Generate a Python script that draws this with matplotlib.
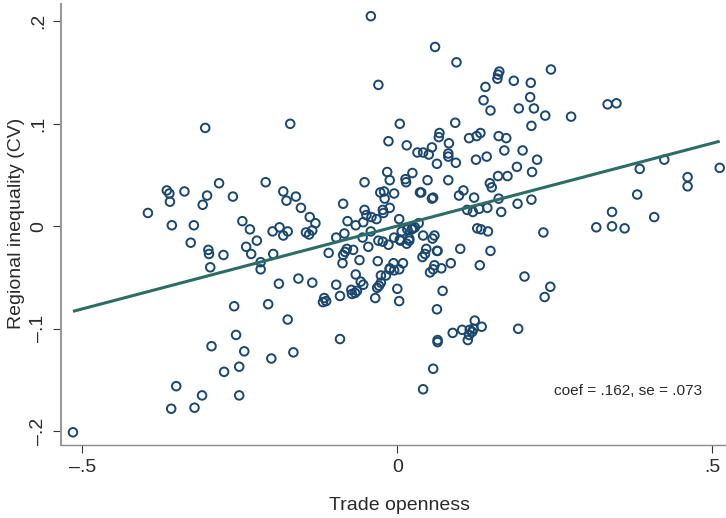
import matplotlib
matplotlib.use("Agg")
import matplotlib.pyplot as plt

plt.rcParams["font.family"] = ["Liberation Sans", "DejaVu Sans"]

# trade openness, regional inequality
points = [
    (-0.042, 0.205), (-0.030, 0.138), (-0.305, 0.096), (-0.170, 0.100), (-0.014, 0.083),
    (-0.016, 0.053), (-0.012, 0.045), (-0.052, 0.043), (-0.209, 0.043), (-0.283, 0.042),
    (-0.366, 0.035), (-0.362, 0.032), (-0.338, 0.034), (-0.302, 0.030), (-0.261, 0.029),
    (-0.181, 0.034), (-0.161, 0.029), (-0.176, 0.025), (-0.361, 0.024), (-0.309, 0.021),
    (-0.153, 0.018), (-0.396, 0.013), (-0.086, 0.022), (-0.027, 0.033), (-0.021, 0.034),
    (-0.020, 0.027), (-0.052, 0.016), (-0.023, 0.016), (-0.022, 0.013), (-0.049, 0.011),
    (-0.041, 0.009), (-0.033, 0.007), (-0.054, 0.004), (-0.066, 0.001), (-0.079, 0.005),
    (-0.139, 0.009), (-0.130, 0.003), (-0.358, 0.001), (-0.323, 0.001), (-0.246, 0.005),
    (-0.234, -0.003), (-0.198, -0.005), (-0.187, -0.001), (-0.174, -0.005), (-0.181, -0.009),
    (-0.145, -0.006), (-0.140, -0.008), (-0.135, -0.004), (-0.097, -0.011), (-0.084, -0.007),
    (-0.042, -0.005), (-0.055, -0.011), (-0.223, -0.014), (-0.328, -0.016), (-0.300, -0.023),
    (-0.299, -0.027), (-0.276, -0.028), (-0.240, -0.020), (-0.232, -0.027), (-0.197, -0.027),
    (-0.217, -0.035), (-0.217, -0.042), (-0.297, -0.040), (-0.109, -0.026), (-0.046, -0.020),
    (-0.030, -0.014), (-0.023, -0.015), (-0.014, -0.018), (-0.070, -0.023), (-0.080, -0.022),
    (-0.083, -0.025), (-0.086, -0.028), (-0.087, -0.036), (-0.060, -0.033), (-0.031, -0.034),
    (-0.066, -0.047), (-0.058, -0.054), (-0.054, -0.057), (-0.026, -0.048), (-0.018, -0.048),
    (-0.012, -0.042), (-0.026, -0.055), (-0.029, -0.058), (-0.032, -0.060), (-0.035, -0.070),
    (-0.188, -0.056), (-0.157, -0.051), (-0.135, -0.055), (-0.097, -0.057), (-0.073, -0.062),
    (-0.072, -0.066), (-0.067, -0.065), (-0.064, -0.063), (-0.091, -0.068), (-0.116, -0.070),
    (-0.118, -0.074), (-0.113, -0.073), (-0.205, -0.076), (-0.259, -0.078), (-0.174, -0.091),
    (-0.256, -0.106), (-0.091, -0.110), (-0.295, -0.117), (-0.243, -0.122), (-0.165, -0.123),
    (-0.200, -0.129), (-0.251, -0.137), (-0.275, -0.142), (-0.351, -0.156), (-0.310, -0.165),
    (-0.251, -0.165), (-0.322, -0.177), (-0.359, -0.178), (-0.515, -0.201),
    (0.060, 0.175), (0.094, 0.160), (0.244, 0.153), (0.162, 0.151), (0.160, 0.148),
    (0.159, 0.144), (0.185, 0.142), (0.212, 0.140), (0.140, 0.136), (0.211, 0.126),
    (0.137, 0.123), (0.193, 0.115), (0.217, 0.115), (0.148, 0.113), (0.235, 0.108),
    (0.276, 0.107), (0.334, 0.119), (0.348, 0.120), (0.213, 0.098), (0.004, 0.100),
    (0.092, 0.101), (0.067, 0.091), (0.066, 0.087), (0.015, 0.079), (0.032, 0.072),
    (0.041, 0.072), (0.050, 0.070), (0.055, 0.077), (0.082, 0.081), (0.081, 0.071),
    (0.081, 0.068), (0.063, 0.061), (0.093, 0.062), (0.114, 0.086), (0.126, 0.088),
    (0.132, 0.091), (0.161, 0.088), (0.173, 0.086), (0.170, 0.074), (0.199, 0.074),
    (0.125, 0.065), (0.142, 0.068), (0.222, 0.065), (0.190, 0.058), (0.214, 0.053),
    (0.160, 0.049), (0.175, 0.049), (0.024, 0.052), (0.013, 0.046), (0.014, 0.043),
    (0.048, 0.045), (0.081, 0.045), (0.147, 0.042), (0.150, 0.038), (0.105, 0.035),
    (0.098, 0.030), (0.122, 0.028), (0.161, 0.027), (0.213, 0.026), (0.191, 0.022),
    (0.036, 0.033), (0.038, 0.033), (0.055, 0.027), (0.057, 0.028), (-0.005, 0.032),
    (-0.012, 0.018), (0.003, 0.007), (0.111, 0.016), (0.120, 0.014), (0.130, 0.017),
    (0.143, 0.018), (0.165, 0.014), (0.127, -0.002), (0.133, -0.003), (0.144, -0.005),
    (0.232, -0.006), (0.316, -0.001), (0.341, 0.000), (0.361, -0.002), (0.341, 0.014),
    (0.381, 0.031), (0.408, 0.009), (0.385, 0.056), (0.424, 0.065), (0.461, 0.048),
    (0.461, 0.039), (0.512, 0.057), (0.034, 0.003), (0.028, -0.001), (0.025, -0.002),
    (0.023, -0.003), (0.016, -0.003), (0.007, -0.005), (-0.005, -0.011), (0.004, -0.013),
    (0.019, -0.012), (0.041, -0.009), (0.059, -0.009), (0.056, -0.012), (0.005, -0.014),
    (0.015, -0.017), (0.019, -0.014), (0.046, -0.022), (0.064, -0.024), (0.063, -0.024),
    (0.100, -0.022), (0.148, -0.024), (0.044, -0.027), (0.040, -0.030), (0.085, -0.036),
    (0.131, -0.038), (0.059, -0.038), (0.057, -0.042), (0.070, -0.041), (0.052, -0.045),
    (0.009, -0.036), (-0.006, -0.036), (-0.012, -0.041), (-0.005, -0.043), (0.003, -0.042),
    (0.202, -0.049), (0.243, -0.059), (0.234, -0.069), (0.000, -0.061), (0.072, -0.063),
    (0.003, -0.073), (0.063, -0.081), (0.123, -0.092), (0.134, -0.098), (0.192, -0.100),
    (0.103, -0.101), (0.088, -0.104), (0.121, -0.100), (0.115, -0.101), (0.119, -0.103),
    (0.114, -0.106), (0.112, -0.111), (0.064, -0.111), (0.064, -0.113), (0.057, -0.139),
    (0.041, -0.159),
]
openness = [p[0] for p in points]
inequality = [p[1] for p in points]

fit_x = [-0.515, 0.512]
fit_y = [-0.083, 0.083]

x_ticks = [-0.5, 0, 0.5]
x_labels = ["\u2013.5", "0", ".5"]
y_ticks = [-0.2, -0.1, 0, 0.1, 0.2]
y_labels = ["\u2013.2", "\u2013.1", "0", ".1", ".2"]

navy = "#1a476f"
green = "#2d6d66"
text_color = "#2a2a2a"

fig = plt.figure(figsize=(7.26, 5.18), dpi=100)
ax = fig.add_axes([61 / 726, 73.3 / 518, 665 / 726, 440.7 / 518])

ax.scatter(openness, inequality, s=38, facecolors="none", edgecolors=navy,
           linewidths=1.4, zorder=2)
ax.plot(fit_x, fit_y, color=green, lw=2.2, zorder=3, solid_capstyle="butt")

ax.set_xlim(-0.534, 0.522)
ax.set_ylim(-0.2131, 0.2169)

ax.set_xticks(x_ticks)
ax.set_xticklabels(x_labels)
ax.set_yticks(y_ticks)
ax.set_yticklabels(y_labels, rotation=90, va="center")
ax.tick_params(axis="both", length=6, width=0.8, color="#333333",
               labelsize=14, labelcolor=text_color, pad=4)

ax.spines["top"].set_visible(False)
ax.spines["right"].set_visible(False)
ax.spines["left"].set_color("#999999")
ax.spines["left"].set_linewidth(1.5)
ax.spines["bottom"].set_color("#888888")
ax.spines["bottom"].set_linewidth(1)

fig.text(399.5 / 726, (518 - 505) / 518, "Trade openness", fontsize=14,
         color=text_color, ha="center", va="center")
fig.text(17 / 726, (518 - 223.5) / 518, "Regional inequality (CV)", fontsize=14,
         color=text_color, rotation=90, ha="center", va="center")
ax.text(0.484, -0.1608, "coef = .162, se = .073", fontsize=11.1, color=text_color,
        ha="right", va="center")

fig.savefig("out.png", dpi=100)
